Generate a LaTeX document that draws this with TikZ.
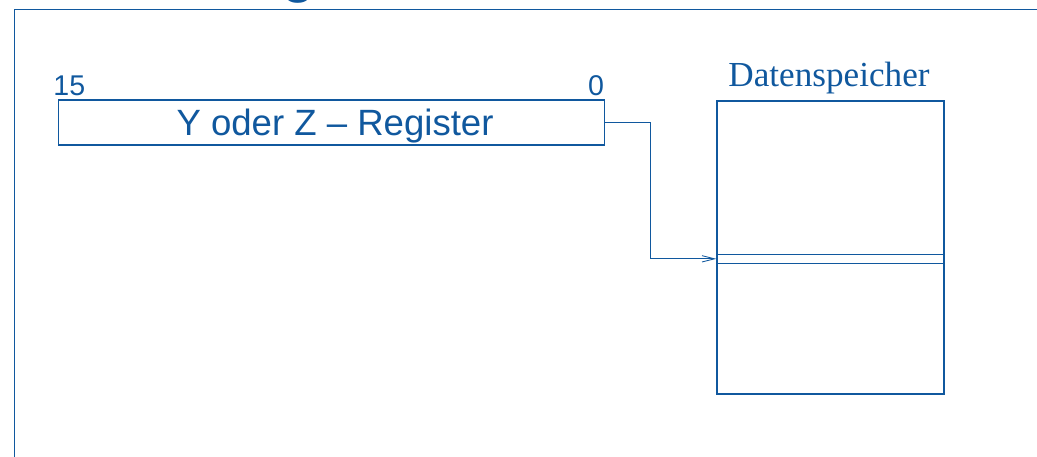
\documentclass[tikz,border=0pt]{standalone}
\usepackage{fontspec}
\setmainfont{Liberation Sans}
\newfontfamily\serifface{Liberation Serif}
\usetikzlibrary{calc,arrows.meta}
\definecolor{slideblue}{RGB}{16,88,158}
\tikzset{
  regbox/.style={draw=slideblue, inner sep=0pt, minimum width=13.625cm, minimum height=1.125cm,
    text depth=0pt, font=\fontsize{26pt}{30pt}\selectfont},
  bitnum/.style={inner sep=0pt, font=\fontsize{20.3pt}{24pt}\selectfont},
  memblock/.style={draw=slideblue, inner sep=0pt, minimum width=5.675cm, minimum height=7.325cm},
  memcell/.style={draw=slideblue, inner sep=0pt, minimum width=5.675cm, minimum height=0.225cm},
}
\begin{document}
\begin{tikzpicture}[x=0.025cm, y=-0.025cm, color=slideblue, line width=0.8pt]
    \clip (0,0) rectangle (1037,456);

    % slide frame and the cut title
    \draw (14,9.5) -- (1040,9.5);
    \draw (14.3,9.5) -- (14.3,460);
    \node[anchor=base west, inner sep=0pt, font=\fontsize{44pt}{50pt}\selectfont] (title) at (281,-10) {g};

    % pointer register
    \node[regbox] (reg) at (331.5,122.5) {\hspace*{0.175cm}Y oder Z \textendash{} Register};
    \node[bitnum, anchor=base west] (msb) at ($(reg.north west)+(-5.5,-4)$) {15};
    \node[bitnum, anchor=base east] (lsb) at ($(reg.north east)+(0,-4)$) {0};

    % data memory
    \node[memblock] (mem) at (830.5,247.5) {};
    \node[memcell] (cell) at (830.5,258.8) {};
    \node[anchor=base, inner sep=0pt, font=\serifface\fontsize{25pt}{30pt}\selectfont] (memtitle)
        at ($(mem.north)+(-1.5,-14.3)$) {Datenspeicher};

    \draw[line width=0.6pt, -{Straight Barb[length=9pt, width=4.5pt]}] (reg.east) -- ++(45.5,0) |- (cell.west);
\end{tikzpicture}
\end{document}
